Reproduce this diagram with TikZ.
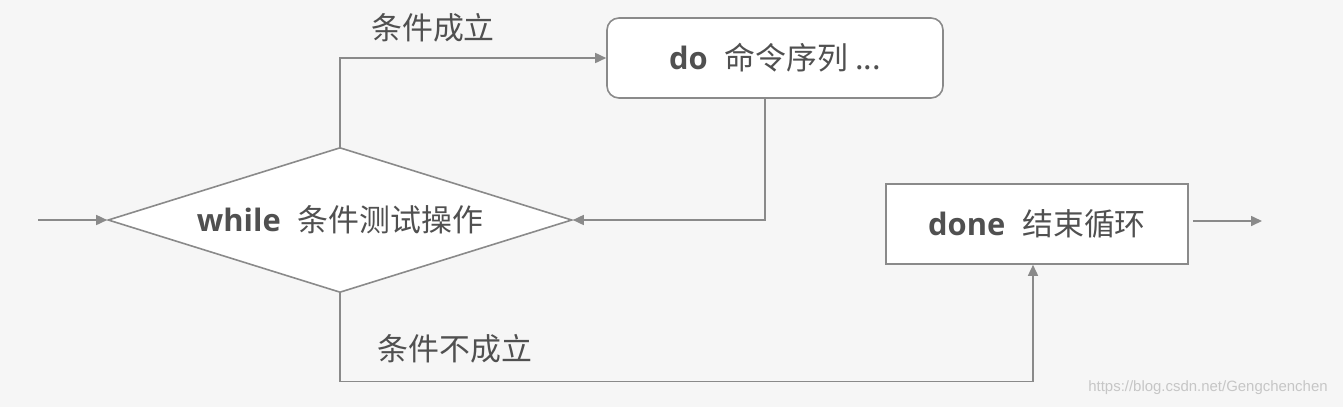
\documentclass[tikz,border=0pt]{standalone}
\usepackage{fontspec}
\setmainfont{Noto Sans CJK SC}
\newfontfamily\latb{Open Sans}
\newfontfamily\wmfont{Liberation Sans}
\usetikzlibrary{shapes.geometric,arrows.meta}
\definecolor{ln}{HTML}{8A8A8A}
\definecolor{tx}{HTML}{505050}
\definecolor{bg}{HTML}{F6F6F6}
\begin{document}
\begin{tikzpicture}[x=1bp,y=-1bp,
  conn/.style={draw=ln,line width=1.6bp,-{Triangle[length=11bp,width=10bp]}},
  txt/.style={text=tx,font=\fontsize{31}{34}\selectfont},
  lbl/.style={txt,inner sep=0pt},
  dia/.style={diamond,aspect=3.2,draw=ln,fill=white,line width=1.6bp,inner sep=0pt,minimum width=464bp,minimum height=145bp,txt},
  rbox/.style={rectangle,rounded corners=12bp,draw=ln,fill=white,line width=1.6bp,minimum width=336bp,minimum height=80bp,txt},
  sbox/.style={rectangle,draw=ln,fill=white,line width=1.6bp,minimum width=302bp,minimum height=80bp,txt}]
\fill[bg] (0,0) rectangle (1343,407);
\useasboundingbox (0,0) rectangle (1343,407);
\node[dia] (w) at (340,220) {{\latb\bfseries while}\hspace{0.55em}条件测试操作};
\node[rbox] (do) at (775,58) {{\latb\bfseries do}\hspace{0.55em}命令序列 ...};
\node[sbox] (done) at (1037,224) {{\latb\bfseries done}\hspace{0.55em}结束循环};
\coordinate (in) at (38,220);
\coordinate (out) at (1262,221);
\draw[conn] (in) -- (w.west);
\draw[conn] (w.north) |- (do.west);
\draw[conn] ([xshift=-10bp]do.south) |- (w.east);
\draw[conn] (w.south) -- ++(0,88) -| ([xshift=-4bp]done.south);
\draw[conn] ([xshift=4bp]done.east |- out) -- (out);
\node[lbl] (yes) at (433,28) {条件成立};
\node[lbl] (no) at (455,349) {条件不成立};
\node[text=gray!45,font=\wmfont\fontsize{15}{17}\selectfont,inner sep=0pt] (wm) at (1208,388) {https://blog.csdn.net/Gengchenchen};
\end{tikzpicture}
\end{document}
